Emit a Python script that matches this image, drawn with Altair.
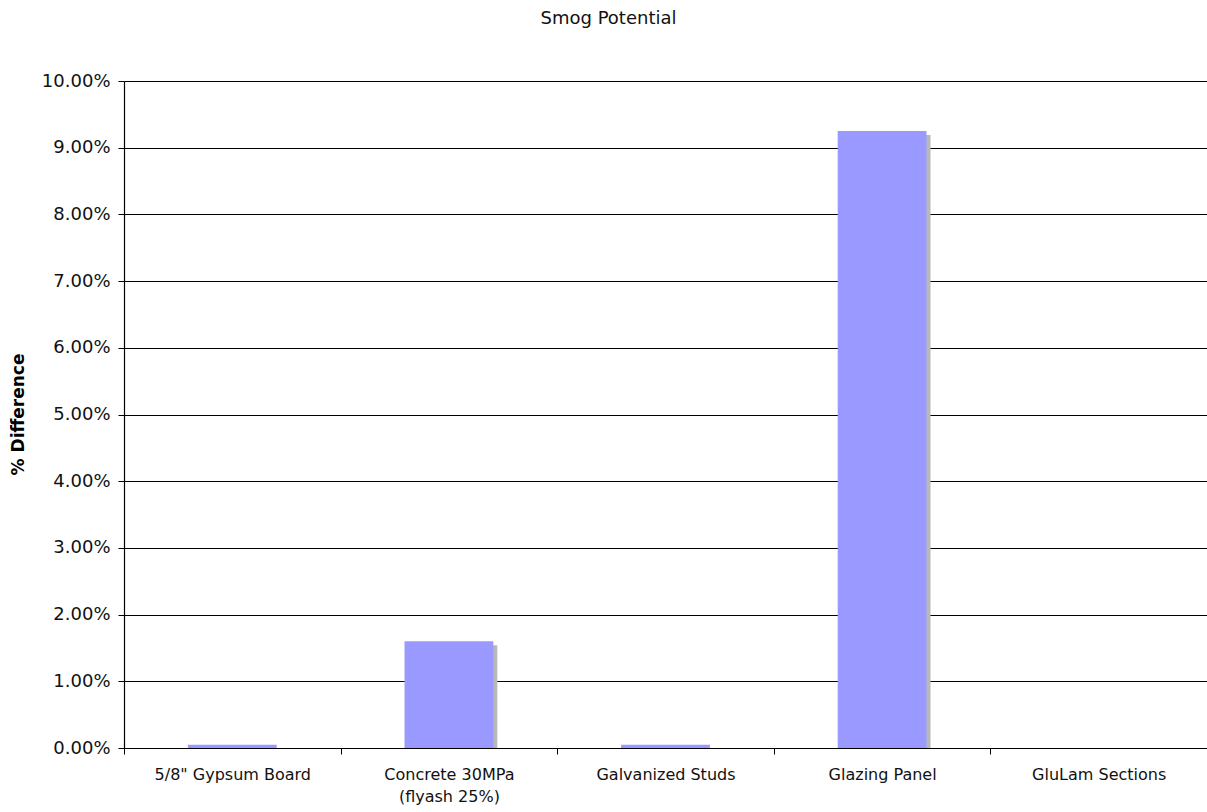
import altair as alt
import pandas as pd

# Percentage difference in smog potential per building material
materials = [
    "5/8\" Gypsum Board",
    "Concrete 30MPa\n(flyash 25%)",
    "Galvanized Studs",
    "Glazing Panel",
    "GluLam Sections",
]
pct_diff = [0.0005, 0.0160, 0.0005, 0.0925, 0.0]

df = pd.DataFrame({"material": materials, "pct": pct_diff})

FONT = "DejaVu Sans"
y_ticks = [i / 100 for i in range(0, 11)]

x_enc = alt.X(
    "material:N",
    sort=materials,
    scale=alt.Scale(paddingInner=0, paddingOuter=0),
    axis=alt.Axis(
        title=None,
        labelAngle=0,
        labelExpr="split(datum.label, '\\n')",
        labelFont=FONT,
        labelFontSize=16,
        labelColor="#111111",
        labelPadding=12,
        labelLineHeight=22,
        tickBand="extent",
        tickSize=6,
        tickColor="#000000",
        domainColor="#000000",
        domainWidth=1.2,
        grid=False,
    ),
)

y_enc = alt.Y(
    "pct:Q",
    scale=alt.Scale(domain=[0, 0.1], nice=False),
    axis=alt.Axis(
        values=y_ticks,
        format=".2%",
        title="% Difference",
        titleFont=FONT,
        titleFontSize=17,
        titleFontWeight="bold",
        titleColor="#000000",
        titleX=-106,
        titleY=333,
        titleAlign="center",
        titleBaseline="middle",
        labelFont=FONT,
        labelFontSize=18,
        labelColor="#111111",
        labelPadding=8,
        tickSize=6,
        tickColor="#000000",
        domainColor="#000000",
        domainWidth=1.2,
        grid=True,
        gridColor="#000000",
        gridWidth=1.1,
        gridOpacity=1,
    ),
)

# drop shadow drawn first, offset down and to the right
shadow = alt.Chart(df).mark_bar(
    width={"band": 0.41}, color="#b8b8b8", xOffset=4, yOffset=4, clip=True
).encode(x=x_enc, y=y_enc)

bars = alt.Chart(df).mark_bar(width={"band": 0.41}, color="#9999ff").encode(
    x=x_enc, y=y_enc
)

chart = (
    alt.layer(shadow, bars)
    .properties(
        width=1083,
        height=667,
        title=alt.TitleParams(
            "Smog Potential",
            font=FONT,
            fontSize=18,
            fontWeight="normal",
            color="#111111",
            anchor="middle",
            dx=-57,
            offset=44,
        ),
        autosize=alt.AutoSizeParams(type="none"),
        padding={"left": 124, "top": 81, "right": 0, "bottom": 64},
    )
    .configure_view(strokeOpacity=0, strokeWidth=0)
    .configure(background="#ffffff")
)

chart.save("out.html", embed_options={"renderer": "svg", "actions": False})
